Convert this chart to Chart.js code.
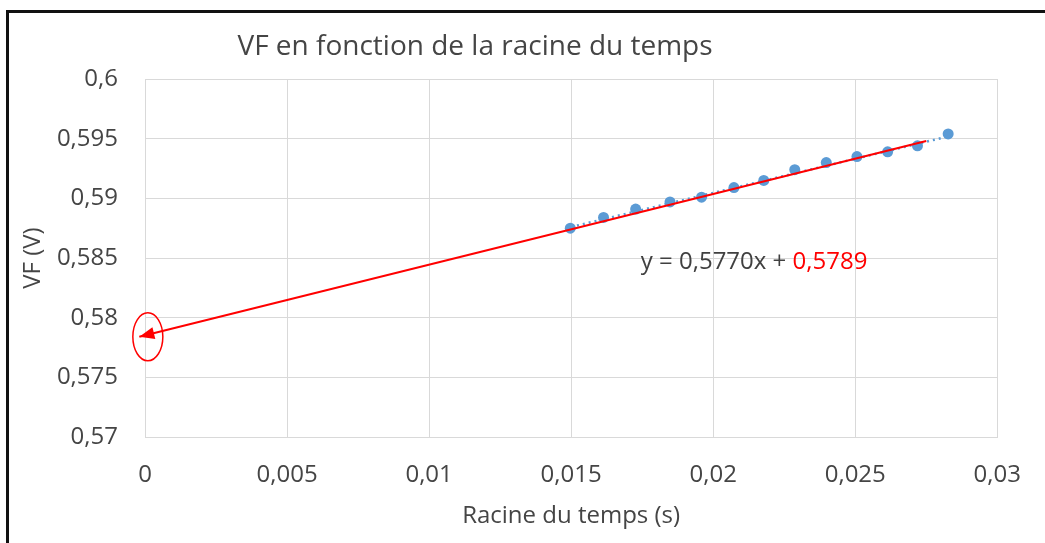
<!DOCTYPE html>
<html>
<head>
<meta charset="utf-8">
<script src="https://cdn.jsdelivr.net/npm/chart.js@4.4.0/dist/chart.umd.min.js"></script>
<style>
  html, body { margin: 0; padding: 0; background: #fff; }
  #wrap { position: relative; width: 1045px; height: 543px; }
</style>
</head>
<body>
<div id="wrap"><canvas id="myChart" width="1045" height="543"></canvas></div>
<script>
// data
var timeRoot = [0.01497, 0.01614, 0.01727, 0.01848, 0.01959, 0.02073, 0.02178, 0.02287, 0.02398, 0.02506, 0.02614, 0.02719, 0.02827];
var vfValues = [0.5875, 0.5884, 0.5891, 0.5897, 0.5901, 0.5909, 0.5915, 0.5924, 0.5930, 0.5935, 0.5939, 0.5944, 0.5954];

// Excel trend line ends (dotted) and the hand drawn red arrow
var trendX = [0.0150, 0.0283];
var trendY = [0.5876, 0.5952];
var arrowX = [0.0275, -0.0002];
var arrowY = [0.5948, 0.5784];
var circleCenter = [0.0001, 0.5784];

var xTicks = [0, 0.005, 0.01, 0.015, 0.02, 0.025, 0.03];
var xTickLabels = ['0', '0,005', '0,01', '0,015', '0,02', '0,025', '0,03'];
var yTicks = [0.57, 0.575, 0.58, 0.585, 0.59, 0.595, 0.6];
var yTickLabels = ['0,57', '0,575', '0,58', '0,585', '0,59', '0,595', '0,6'];

var chartTitle = 'VF en fonction de la racine du temps';
var eqText = 'y = 0,5770x + ';
var eqIntercept = '0,5789';
var eqPos = [0.01745, 0.58466];

var textColor = '#454545';
var fontName = '"Open Sans", "Liberation Sans", sans-serif';

function toPoints(xs, ys) {
    var pts = [];
    for (var i = 0; i < xs.length; i++) {
        pts.push({x: xs[i], y: ys[i]});
    }
    return pts;
}

// title, equation, arrow head, circle and the frame
var extras = {
    id: 'extras',
    afterDatasetsDraw: function(chart) {
        var ctx = chart.ctx;
        var xs = chart.scales.x, ys = chart.scales.y;
        ctx.save();

        // arrow head
        var x0 = xs.getPixelForValue(arrowX[0]), y0 = ys.getPixelForValue(arrowY[0]);
        var x1 = xs.getPixelForValue(arrowX[1]), y1 = ys.getPixelForValue(arrowY[1]);
        var ang = Math.atan2(y1 - y0, x1 - x0);
        var len = 15, half = 6;
        ctx.fillStyle = '#ff0000';
        ctx.beginPath();
        ctx.moveTo(x1, y1);
        ctx.lineTo(x1 - len * Math.cos(ang) + half * Math.sin(ang), y1 - len * Math.sin(ang) - half * Math.cos(ang));
        ctx.lineTo(x1 - len * Math.cos(ang) - half * Math.sin(ang), y1 - len * Math.sin(ang) + half * Math.cos(ang));
        ctx.closePath();
        ctx.fill();

        // circle round the intercept
        ctx.strokeStyle = '#ff0000';
        ctx.lineWidth = 1.5;
        ctx.beginPath();
        ctx.ellipse(xs.getPixelForValue(circleCenter[0]), ys.getPixelForValue(circleCenter[1]), 15, 24, 0, 0, Math.PI * 2);
        ctx.stroke();

        // equation
        ctx.font = '24px ' + fontName;
        ctx.textBaseline = 'middle';
        ctx.textAlign = 'left';
        var ex = xs.getPixelForValue(eqPos[0]), ey = ys.getPixelForValue(eqPos[1]);
        ctx.fillStyle = '#404040';
        ctx.fillText(eqText, ex, ey);
        ctx.fillStyle = '#ff0000';
        ctx.fillText(eqIntercept, ex + ctx.measureText(eqText).width, ey);

        // chart title
        ctx.font = '28px ' + fontName;
        ctx.textAlign = 'center';
        ctx.fillStyle = textColor;
        ctx.fillText(chartTitle, 475, 47);

        // frame of the screenshot
        ctx.fillStyle = '#111';
        ctx.fillRect(6, 10, 1039, 3);
        ctx.fillRect(6, 10, 3, 533);
        ctx.restore();
    }
};

var ctx = document.getElementById('myChart').getContext('2d');
var chart = new Chart(ctx, {
    type: 'scatter',
    data: {
        datasets: [{
            data: toPoints(arrowX, arrowY),
            showLine: true,
            borderColor: '#ff0000',
            borderWidth: 2,
            pointRadius: 0,
            clip: false
        }, {
            data: toPoints(timeRoot, vfValues),
            backgroundColor: '#5b9bd5',
            borderColor: '#5b9bd5',
            pointRadius: 5.5,
            pointBorderWidth: 0
        }, {
            data: toPoints(trendX, trendY),
            showLine: true,
            borderColor: '#5b9bd5',
            borderWidth: 2.5,
            borderDash: [2, 4],
            pointRadius: 0
        }]
    },
    options: {
        responsive: false,
        animation: false,
        layout: { padding: { left: 0, right: 42, top: 79, bottom: 0 } },
        plugins: {
            legend: { display: false },
            tooltip: { enabled: false }
        },
        scales: {
            x: {
                type: 'linear',
                min: 0,
                max: 0.03,
                afterBuildTicks: function(scale) {
                    scale.ticks = xTicks.map(function(v) { return {value: v}; });
                },
                afterFit: function(scale) { scale.height = 106; },
                grid: { color: '#d9d9d9', drawTicks: false },
                border: { color: '#d9d9d9' },
                ticks: {
                    padding: 24,
                    color: textColor,
                    font: { family: fontName, size: 24 },
                    maxRotation: 0,
                    callback: function(v, i) { return xTickLabels[i]; }
                },
                title: {
                    display: true,
                    text: 'Racine du temps (s)',
                    color: textColor,
                    font: { family: fontName, size: 24 },
                    padding: { top: 0, bottom: 12 }
                }
            },
            y: {
                min: 0.57,
                max: 0.6,
                afterBuildTicks: function(scale) {
                    scale.ticks = yTicks.map(function(v) { return {value: v}; });
                },
                afterFit: function(scale) { scale.width = 145; },
                grid: { color: '#d9d9d9', drawTicks: false },
                border: { color: '#d9d9d9' },
                ticks: {
                    padding: 27,
                    color: textColor,
                    font: { family: fontName, size: 24 },
                    callback: function(v, i) { return yTickLabels[i]; }
                },
                title: {
                    display: true,
                    text: 'VF (V)',
                    color: textColor,
                    font: { family: fontName, size: 24 },
                    padding: { top: 19, bottom: 0 }
                }
            }
        }
    },
    plugins: [extras]
});
</script>
</body>
</html>
